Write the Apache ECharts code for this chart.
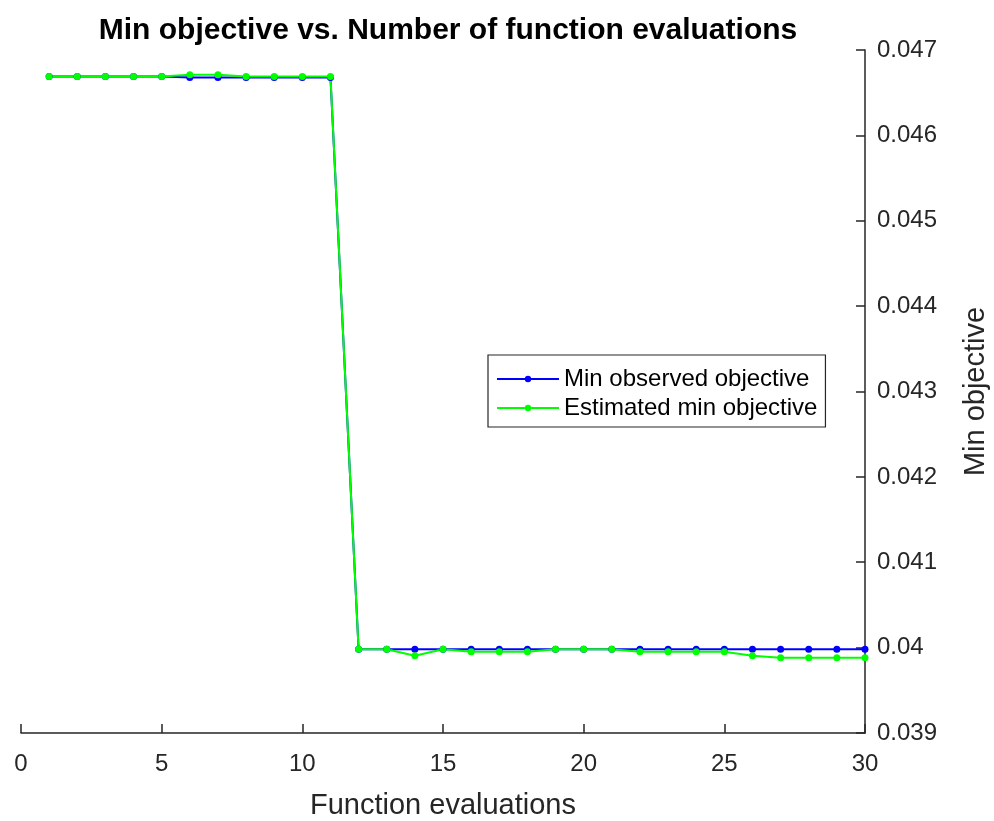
<!DOCTYPE html>
<html><head><meta charset="utf-8">
<script src="https://cdn.jsdelivr.net/npm/echarts@6/dist/echarts.min.js"></script>
<style>html,body{margin:0;padding:0;background:#fff}#c{width:994px;height:821px}</style>
</head><body><div id="c"></div>
<script>
const evaluations = [1,2,3,4,5,6,7,8,9,10,11,12,13,14,15,16,17,18,19,20,21,22,23,24,25,26,27,28,29,30];
const minObserved = [0.04669,0.04669,0.04669,0.04669,0.04669,0.046677,0.046677,0.046677,0.046677,0.046677,0.046677,
  0.03998,0.03998,0.03998,0.03998,0.03998,0.03998,0.03998,0.03998,0.03998,0.03998,0.03998,0.03998,0.03998,0.03998,0.03998,0.03998,0.03998,0.03998,0.03998];
const estimatedMin = [0.04669,0.04669,0.04669,0.04669,0.04669,0.04671,0.04671,0.04669,0.04669,0.04669,0.04669,
  0.03998,0.03998,0.039905,0.03998,0.039952,0.039952,0.039952,0.03998,0.03998,0.03998,0.039952,0.039952,0.039952,0.039952,0.039905,0.039882,0.039882,0.039882,0.039882];
const xTicks = [0,5,10,15,20,25,30];
const yTicks = [0.039,0.04,0.041,0.042,0.043,0.044,0.045,0.046,0.047];

const FONT = '"Liberation Sans", Arial, sans-serif';
const AX = '#262626';
const chart = echarts.init(document.getElementById('c'), null, {renderer:'canvas'});
chart.setOption({
  animation:false,
  backgroundColor:'#fff',
  title:{text:'Min objective vs. Number of function evaluations', left:443, top:11, textAlign:'center',
    textStyle:{fontFamily:FONT, fontSize:30, fontWeight:'bold', color:'#000'}},
  grid:{left:21, right:129, top:50, bottom:88, containLabel:false, outerBoundsMode:'none'},
  legend:{orient:'vertical', left:488, top:355, borderColor:AX, borderWidth:1.2, padding:[12,8,7,8],
    itemWidth:62, itemHeight:8, itemGap:5,
    textStyle:{fontFamily:FONT, fontSize:24, color:'#000'},
    data:['Min observed objective','Estimated min objective']},
  xAxis:{type:'value', min:xTicks[0], max:xTicks[xTicks.length-1], interval:5,
    name:'Function evaluations', nameLocation:'middle', nameGap:58,
    nameTextStyle:{fontFamily:FONT, fontSize:29, color:AX},
    axisLine:{show:true, onZero:false, lineStyle:{color:AX, width:1.5}},
    axisTick:{show:true, inside:true, length:9, lineStyle:{color:AX, width:1.5}},
    axisLabel:{fontFamily:FONT, fontSize:24, color:AX, margin:19},
    splitLine:{show:false}},
  yAxis:{type:'value', position:'right', min:yTicks[0], max:yTicks[yTicks.length-1], interval:0.001,
    name:'Min objective', nameLocation:'middle', nameGap:96, nameRotate:90,
    nameTextStyle:{fontFamily:FONT, fontSize:29, color:AX},
    axisLine:{show:true, onZero:false, lineStyle:{color:AX, width:1.5}},
    axisTick:{show:true, inside:true, length:9, lineStyle:{color:AX, width:1.5}},
    axisLabel:{fontFamily:FONT, fontSize:24, color:AX, margin:12,
      formatter:v=>String(+v.toFixed(3))},
    splitLine:{show:false}},
  series:[
    {name:'Min observed objective', type:'line', data:evaluations.map((x,i)=>[x,minObserved[i]]),
      color:'#0000ff', lineStyle:{width:2}, symbol:'circle', symbolSize:7, showSymbol:true},
    {name:'Estimated min objective', type:'line', data:evaluations.map((x,i)=>[x,estimatedMin[i]]),
      color:'#00ff00', lineStyle:{width:2}, symbol:'circle', symbolSize:7, showSymbol:true}
  ]
});
</script></body></html>
